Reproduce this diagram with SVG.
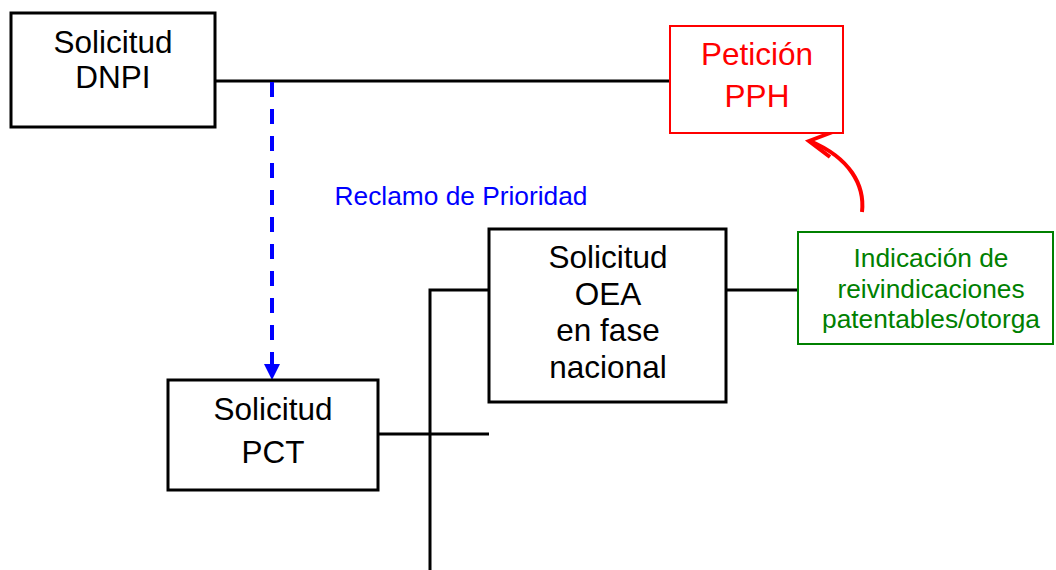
<svg xmlns="http://www.w3.org/2000/svg" width="1056" height="570" viewBox="0 0 1056 570">
<style>
.box{fill:#fff;stroke:#000;stroke-width:3}
.t{font-family:"Liberation Sans",Arial,sans-serif;font-size:31.5px;text-anchor:middle;fill:#000}
.s{font-family:"Liberation Sans",Arial,sans-serif;font-size:26.3px;text-anchor:middle}
.ln{stroke:#000;stroke-width:3;fill:none}
</style>
<rect width="1056" height="570" fill="#fff"/>
<g id="connectors">
<line class="ln" x1="215" y1="81" x2="670" y2="81"/>
<line class="ln" x1="726" y1="290" x2="798" y2="290"/>
<polyline class="ln" points="489,290 430,290 430,570"/>
<line class="ln" x1="378" y1="434" x2="489" y2="434"/>
<line x1="272" y1="82" x2="272" y2="366" stroke="#0000ff" stroke-width="4" stroke-dasharray="15,12"/>
<path d="M264,364 L280,364 L272,380 Z" fill="#0000ff"/>
<path d="M862,212 C865,185 850,158 810,141" stroke="#ff0000" stroke-width="4" fill="none"/>
<path d="M838,130 L809,141 L830,157" stroke="#ff0000" stroke-width="4" fill="none" stroke-linejoin="miter"/>
</g>
<g id="dnpi">
<rect class="box" x="11" y="13" width="204" height="114"/>
<text class="t" x="113" y="53">Solicitud</text>
<text class="t" x="113" y="88">DNPI</text>
</g>
<g id="pph">
<rect x="670" y="26" width="173" height="107" fill="#fff" stroke="#ff0000" stroke-width="2"/>
<text class="t" x="757" y="65" style="fill:#ff0000">Petición</text>
<text class="t" x="757" y="107" style="fill:#ff0000">PPH</text>
</g>
<g id="reclamo">
<text class="s" x="461" y="205" style="fill:#0000ff">Reclamo de Prioridad</text>
</g>
<g id="oea">
<rect class="box" x="489" y="229" width="237" height="173"/>
<text class="t" x="608" y="268">Solicitud</text>
<text class="t" x="608" y="305">OEA</text>
<text class="t" x="608" y="341">en fase</text>
<text class="t" x="608" y="378">nacional</text>
</g>
<g id="indicacion">
<rect x="798" y="232" width="255" height="112" fill="#fff" stroke="#008000" stroke-width="2"/>
<text class="s" x="931" y="267" style="fill:#008000">Indicación de</text>
<text class="s" x="931" y="298" style="fill:#008000">reivindicaciones</text>
<text class="s" x="931" y="328" style="fill:#008000">patentables/otorga</text>
</g>
<g id="pct">
<rect class="box" x="168" y="380" width="210" height="110"/>
<text class="t" x="273" y="420">Solicitud</text>
<text class="t" x="273" y="463">PCT</text>
</g>
</svg>
